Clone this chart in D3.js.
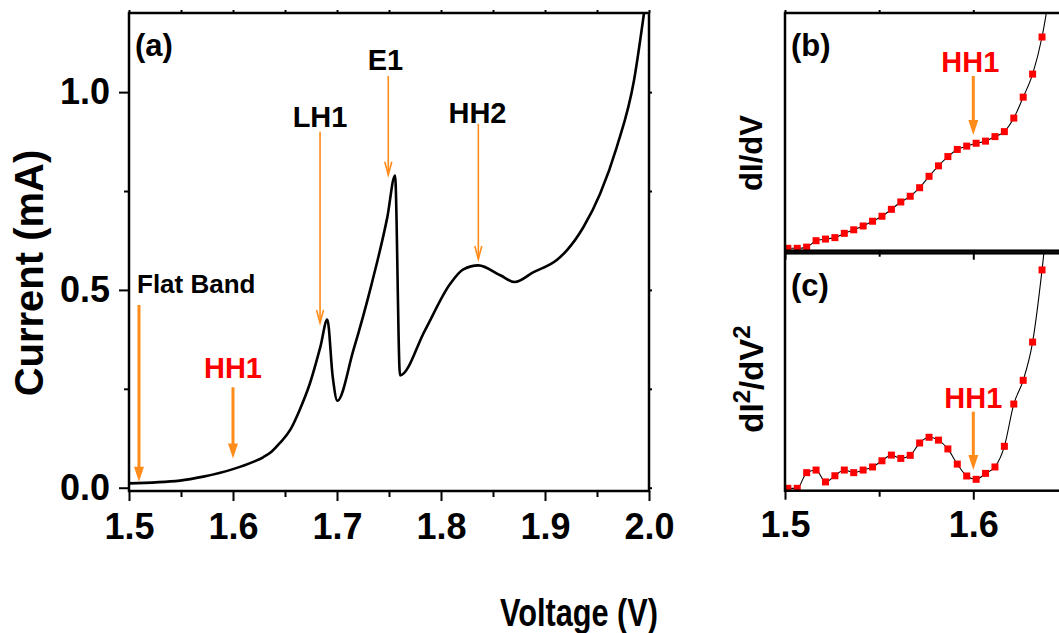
<!DOCTYPE html>
<html>
<head>
<meta charset="utf-8">
<script src="https://cdn.jsdelivr.net/npm/d3@7"></script>
<style>
  body { margin: 0; background: #fff; }
  svg text { font-family: "Liberation Sans", Arial, sans-serif; font-weight: bold; }
</style>
</head>
<body>
<div id="chart"></div>
<script>
// I-V curve, panel (a)
const ivVoltage = [1.500, 1.549, 1.5715, 1.600, 1.620, 1.629, 1.637, 1.645, 1.655, 1.664, 1.674, 1.684, 1.6907, 1.6959, 1.7003,
  1.7157, 1.7334, 1.7484, 1.7558, 1.7606, 1.7846, 1.8087, 1.8215, 1.836, 1.857, 1.871, 1.889, 1.911, 1.921, 1.937,
  1.953, 1.969, 1.9856, 1.9952];
const ivCurrent = [0.011, 0.018, 0.028, 0.047, 0.066, 0.077, 0.091, 0.113, 0.146, 0.196, 0.264, 0.356, 0.425, 0.280, 0.220,
  0.347, 0.516, 0.684, 0.789, 0.284, 0.398, 0.515, 0.552, 0.562, 0.537, 0.520, 0.545, 0.575, 0.600, 0.659,
  0.743, 0.861, 1.030, 1.200];

// derivatives, panels (b) and (c), arbitrary units
const derivVoltage = [1.5015, 1.5065, 1.5115, 1.5165, 1.5215, 1.5265, 1.5315, 1.5365, 1.5415, 1.5465, 1.5515, 1.5565,
  1.5615, 1.5665, 1.5715, 1.5765, 1.5815, 1.5865, 1.5915, 1.5965, 1.6015, 1.6065, 1.6115, 1.6165, 1.6215, 1.6265,
  1.6315, 1.6365, 1.6415];
const dIdV = [0.010, 0.010, 0.015, 0.042, 0.049, 0.055, 0.073, 0.088, 0.104, 0.124, 0.145, 0.174, 0.205, 0.229,
  0.265, 0.313, 0.357, 0.396, 0.426, 0.440, 0.452, 0.461, 0.480, 0.501, 0.558, 0.646, 0.743, 0.899, 1.135];
const d2IdV2 = [0.010, 0.010, 0.076, 0.087, 0.037, 0.063, 0.087, 0.076, 0.087, 0.100, 0.126, 0.150, 0.136, 0.149,
  0.201, 0.225, 0.213, 0.176, 0.112, 0.062, 0.048, 0.073, 0.100, 0.187, 0.365, 0.465, 0.626, 0.930, 1.323];

// ticks
const mainXTicks = [1.5, 1.6, 1.7, 1.8, 1.9, 2.0];
const mainXMinor = [1.55, 1.65, 1.75, 1.85, 1.95];
const mainYTicks = [0.0, 0.5, 1.0];
const mainYMinor = [0.25, 0.75];
const sideXTicks = [1.5, 1.6];
const sideXMinor = [1.55, 1.65];

// annotations: [label, textV, textY, arrowV, arrowFrom, arrowTo]
const annotA = [
  ["Flat Band", 1.5077, 0.492, 1.5096, 0.462, 0.015],
  ["HH1", 1.600, 0.277, 1.600, 0.254, 0.074],
  ["LH1", 1.6837, 0.912, 1.6837, 0.900, 0.4165],
  ["E1", 1.7466, 1.056, 1.7493, 1.041, 0.791],
  ["HH2", 1.8351, 0.9216, 1.8359, 0.920, 0.578]
];
const annotB = ["HH1", 1.5984, 0.753, 1.600, 0.735, 0.487];
const annotC = ["HH1", 1.600, 0.348, 1.600, 0.333, 0.087];

const width = 1059, height = 633;
const orange = "#ff8c1a", red = "#ff0000";

const svg = d3.select('#chart').append('svg')
  .attr('width', width)
  .attr('height', height);

const defs = svg.append('defs');

function fmt(d) { return d3.format('.1f')(d); }

function frame(g, x0, y0, x1, y1) {
  g.append('rect')
    .attr('x', x0).attr('y', y0)
    .attr('width', x1 - x0).attr('height', y1 - y0)
    .attr('fill', 'none')
    .attr('stroke', '#000')
    .attr('stroke-width', 2.5);
}

function styleAxis(sel, size) {
  sel.select('.domain').remove();
  sel.selectAll('line').attr('stroke', '#000').attr('stroke-width', 2);
  sel.selectAll('text').attr('font-size', size).attr('fill', '#000');
}

function arrow(g, x, y1, y2, heavy) {
  let color = orange;
  if (heavy) {
    g.append('line')
      .attr('x1', x).attr('x2', x)
      .attr('y1', y1).attr('y2', y2 - 12)
      .attr('stroke', color).attr('stroke-width', 3);
    g.append('path')
      .attr('d', `M${x - 5},${y2 - 15}L${x + 5},${y2 - 15}L${x},${y2}Z`)
      .attr('fill', color);
  } else {
    g.append('line')
      .attr('x1', x).attr('x2', x)
      .attr('y1', y1).attr('y2', y2)
      .attr('stroke', color).attr('stroke-width', 1.6);
    g.append('path')
      .attr('d', `M${x - 3.5},${y2 - 13}L${x},${y2}L${x + 3.5},${y2 - 13}`)
      .attr('fill', 'none')
      .attr('stroke', color).attr('stroke-width', 1.6);
  }
}

// ---------- panel (a) ----------
const ax = {left: 129, right: 649, top: 13, bottom: 491};
const xA = d3.scaleLinear().domain([1.5, 2.0]).range([ax.left, ax.right]);
const yA = d3.scaleLinear().domain([-0.0083, 1.2]).range([ax.bottom, ax.top]);

defs.append('clipPath').attr('id', 'clipA')
  .append('rect').attr('x', ax.left).attr('y', ax.top)
  .attr('width', ax.right - ax.left).attr('height', ax.bottom - ax.top);

const gA = svg.append('g');

gA.append('path')
  .datum(ivVoltage.map((v, i) => [v, ivCurrent[i]]))
  .attr('clip-path', 'url(#clipA)')
  .attr('fill', 'none')
  .attr('stroke', '#000')
  .attr('stroke-width', 2.6)
  .attr('stroke-linejoin', 'round')
  .attr('d', d3.line().x(d => xA(d[0])).y(d => yA(d[1])).curve(d3.curveMonotoneX));

gA.append('g').attr('transform', `translate(0,${ax.bottom})`)
  .call(d3.axisBottom(xA).tickValues(mainXTicks).tickSize(10).tickPadding(12).tickFormat(fmt))
  .call(s => styleAxis(s, 36));
gA.append('g').attr('transform', `translate(0,${ax.bottom})`)
  .call(d3.axisBottom(xA).tickValues(mainXMinor).tickSize(6).tickFormat(''))
  .call(s => styleAxis(s, 36));
gA.append('g').attr('transform', `translate(0,${ax.top})`)
  .call(d3.axisTop(xA).tickValues(mainXTicks.concat(mainXMinor)).tickSize(3).tickFormat(''))
  .call(s => styleAxis(s, 36));
gA.append('g').attr('transform', `translate(${ax.left},0)`)
  .call(d3.axisLeft(yA).tickValues(mainYTicks).tickSize(10).tickPadding(9).tickFormat(fmt))
  .call(s => styleAxis(s, 36));
gA.append('g').attr('transform', `translate(${ax.left},0)`)
  .call(d3.axisLeft(yA).tickValues(mainYMinor).tickSize(5).tickFormat(''))
  .call(s => styleAxis(s, 36));
gA.append('g').attr('transform', `translate(${ax.right},0)`)
  .call(d3.axisRight(yA).tickValues(mainYTicks.concat(mainYMinor)).tickSize(3).tickFormat(''))
  .call(s => styleAxis(s, 36));

frame(gA, ax.left, ax.top, ax.right, ax.bottom);

gA.append('text')
  .attr('x', ax.left + 6).attr('y', 56)
  .attr('font-size', 31)
  .text('(a)');

annotA.forEach((a, i) => {
  let heavy = (a[0] === 'Flat Band' || a[0] === 'HH1');
  gA.append('text')
    .attr('x', xA(a[1])).attr('y', yA(a[2]))
    .attr('text-anchor', a[0] === 'Flat Band' ? 'start' : 'middle')
    .attr('font-size', a[0] === 'Flat Band' ? 26 : 29)
    .attr('fill', a[0] === 'HH1' ? red : '#000')
    .text(a[0]);
  arrow(gA, xA(a[3]), yA(a[4]), yA(a[5]), heavy);
});

gA.append('text')
  .attr('transform', `translate(43,273) rotate(-90)`)
  .attr('text-anchor', 'middle')
  .attr('font-size', 40)
  .text('Current (mA)');

svg.append('text')
  .attr('x', 579).attr('y', 626)
  .attr('text-anchor', 'middle')
  .attr('font-size', 38)
  .attr('textLength', 158)
  .attr('lengthAdjust', 'spacingAndGlyphs')
  .text('Voltage (V)');

// ---------- panels (b) and (c) ----------
const sx = {left: 785, right: 1070};
const xS = d3.scaleLinear().domain([1.5, 1.6]).range([785, 973.3]);

function sidePanel(id, top, bottom, values, annot, label, showLabels) {
  const y = d3.scaleLinear().domain([0, 1]).range([bottom, top]);
  const g = svg.append('g');

  defs.append('clipPath').attr('id', id)
    .append('rect').attr('x', sx.left).attr('y', top)
    .attr('width', sx.right - sx.left).attr('height', bottom - top + 10);

  const pts = derivVoltage.map((v, i) => [v, values[i]]);

  g.append('path')
    .datum(pts)
    .attr('clip-path', `url(#${id})`)
    .attr('fill', 'none')
    .attr('stroke', '#000')
    .attr('stroke-width', 1.1)
    .attr('d', d3.line().x(d => xS(d[0])).y(d => y(d[1])).curve(d3.curveMonotoneX));

  g.append('g').attr('clip-path', `url(#${id})`)
    .selectAll('rect')
    .data(pts)
    .enter().append('rect')
    .attr('x', d => xS(d[0]) - 3.5)
    .attr('y', d => y(d[1]) - 3.5)
    .attr('width', 7).attr('height', 7)
    .attr('fill', red);

  g.append('g').attr('transform', `translate(0,${bottom})`)
    .call(d3.axisBottom(xS).tickValues(sideXTicks).tickSize(9).tickPadding(12)
      .tickFormat(showLabels ? fmt : ''))
    .call(s => styleAxis(s, 36));
  g.append('g').attr('transform', `translate(0,${bottom})`)
    .call(d3.axisBottom(xS).tickValues(sideXMinor).tickSize(6).tickFormat(''))
    .call(s => styleAxis(s, 36));
  g.append('g').attr('transform', `translate(0,${top})`)
    .call(d3.axisTop(xS).tickValues(sideXTicks.concat(sideXMinor)).tickSize(3).tickFormat(''))
    .call(s => styleAxis(s, 36));

  frame(g, sx.left, top, sx.right, bottom);

  g.append('text')
    .attr('x', sx.left + 6).attr('y', top + 43)
    .attr('font-size', 31)
    .text(label);

  g.append('text')
    .attr('x', xS(annot[1])).attr('y', y(annot[2]))
    .attr('text-anchor', 'middle')
    .attr('font-size', 29)
    .attr('fill', red)
    .text(annot[0]);
  arrow(g, xS(annot[3]), y(annot[4]), y(annot[5]), true);
  return g;
}

const gB = sidePanel('clipB', 13, 250.7, dIdV, annotB, '(b)', false);
const gC = sidePanel('clipC', 253.3, 490.7, d2IdV2, annotC, '(c)', true);

gB.append('text')
  .attr('transform', 'translate(762,153) rotate(-90)')
  .attr('text-anchor', 'middle')
  .attr('font-size', 31)
  .text('dI/dV');

const lblC = gC.append('text')
  .attr('transform', 'translate(763,379) rotate(-90)')
  .attr('text-anchor', 'middle')
  .attr('font-size', 33);
lblC.append('tspan').text('dI');
lblC.append('tspan').attr('font-size', 24).attr('dy', -13).text('2');
lblC.append('tspan').attr('dy', 13).text('/dV');
lblC.append('tspan').attr('font-size', 24).attr('dy', -13).text('2');
</script>
</body>
</html>
